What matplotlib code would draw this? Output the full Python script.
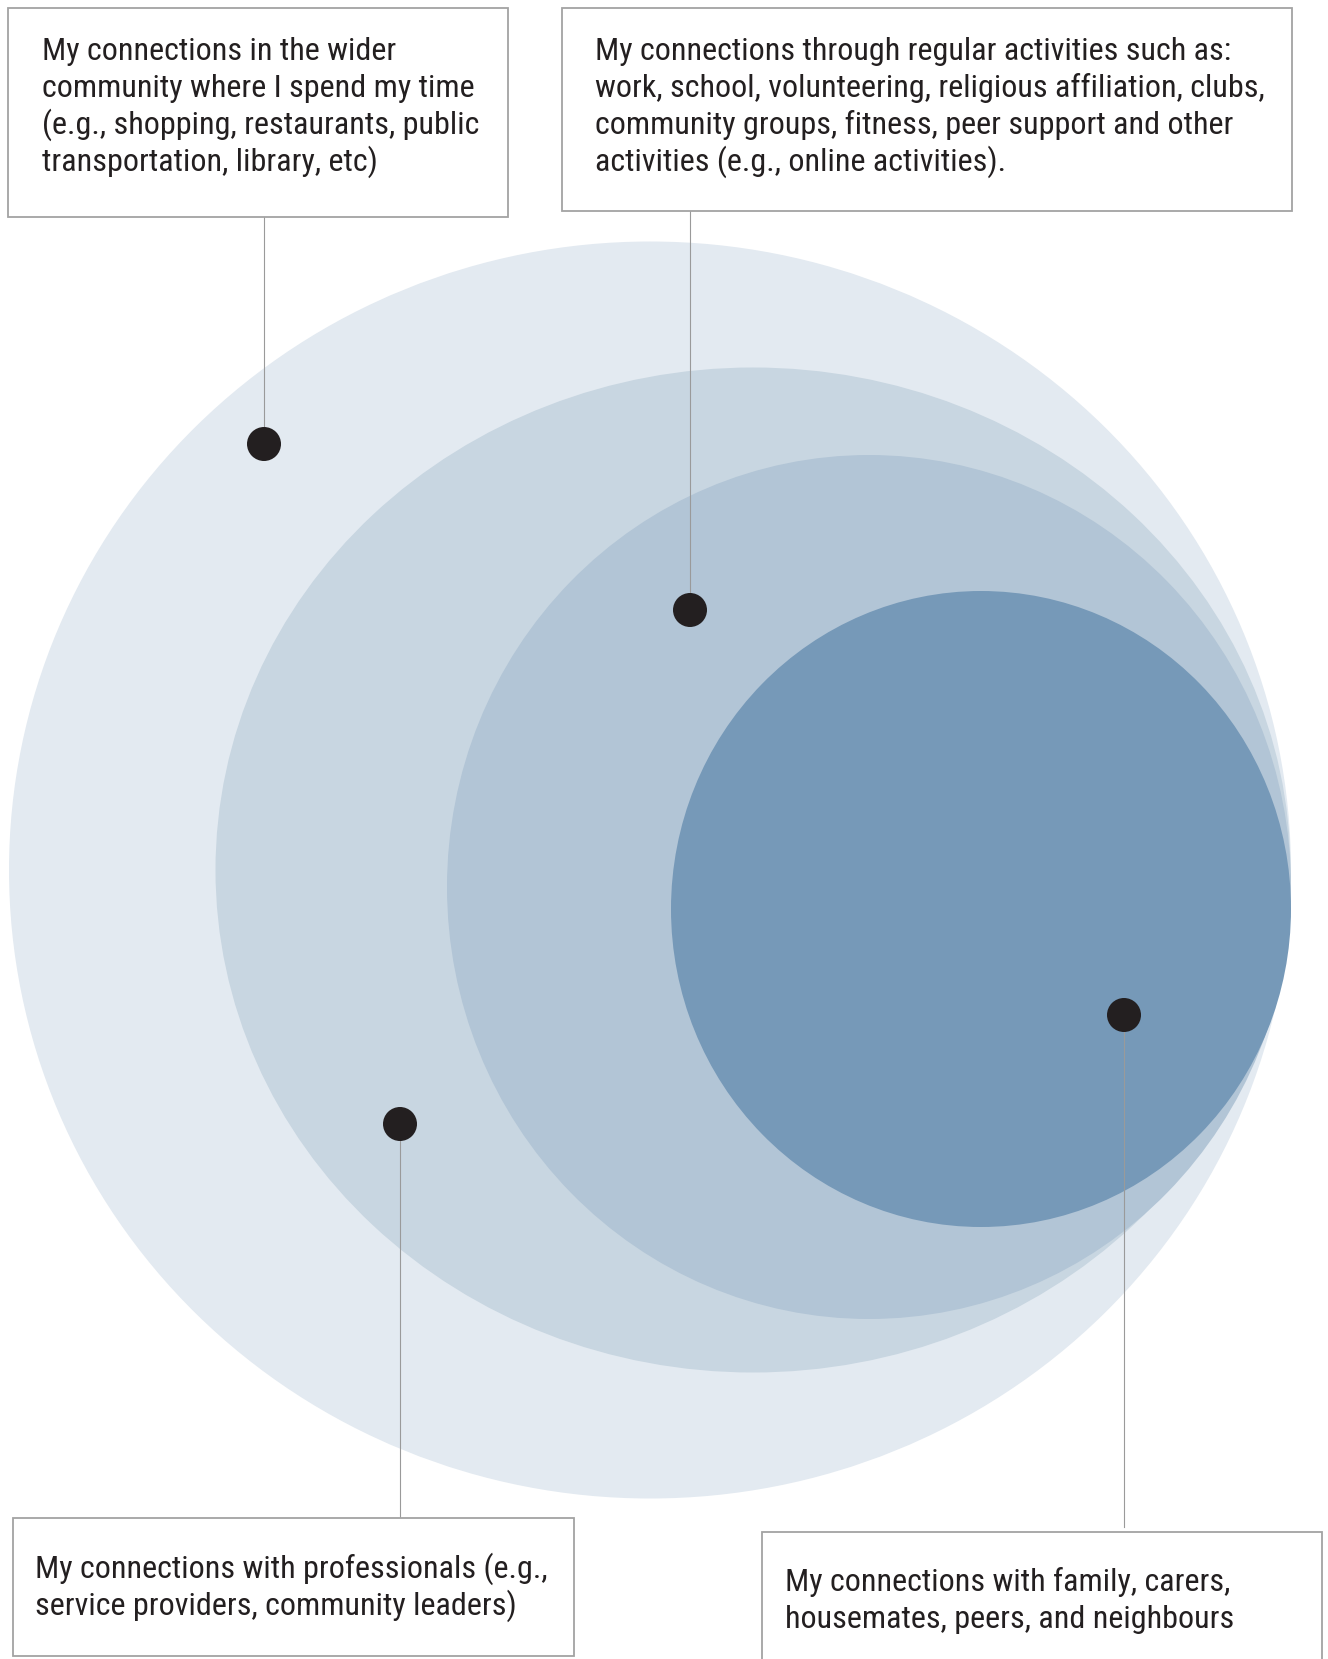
import matplotlib
matplotlib.use('Agg')
import matplotlib.pyplot as plt
from matplotlib import font_manager
from matplotlib.patches import Ellipse, Circle, Rectangle

# label texts, one entry per line
labels_wider = ['My connections in the wider',
                'community where I spend my time',
                '(e.g., shopping, restaurants, public',
                'transportation, library, etc)']
labels_activities = ['My connections through regular activities such as:',
                     'work, school, volunteering, religious affiliation, clubs,',
                     'community groups, fitness, peer support and other',
                     'activities (e.g., online activities).']
labels_professionals = ['My connections with professionals (e.g.,',
                        'service providers, community leaders)']
labels_family = ['My connections with family, carers,',
                 'housemates, peers, and neighbours']

ring_colors = ['#e3eaf1', '#c8d6e1', '#b2c5d6', '#7699b8']

# look for a narrow / condensed face, the reference uses a condensed grotesk
def pick_font():
    wanted = ['liberation sans narrow', 'roboto condensed', 'noto sans condensed',
              'dejavu sans condensed', 'open sans condensed', 'noto sans semicondensed']
    found = {}
    for f in font_manager.fontManager.ttflist:
        key = f.name.lower()
        if f.style != 'normal' or f.weight not in (400, 'normal', 'regular'):
            continue
        if str(f.stretch) in ('condensed', 'semi-condensed', 'extra-condensed'):
            key = key + ' ' + str(f.stretch).replace('-', '')
        found.setdefault(key, f.fname)
        found.setdefault(f.name.lower(), f.fname)
    for w in wanted:
        if w in found:
            return font_manager.FontProperties(fname=found[w])
    for f in font_manager.fontManager.ttflist:
        n = (f.fname + f.name).lower()
        if ('condensed' in n or 'narrow' in n) and 'bold' not in n and 'italic' not in n \
                and 'light' not in n and 'medium' not in n and 'black' not in n and 'thin' not in n:
            return font_manager.FontProperties(fname=f.fname)
    return font_manager.FontProperties(family='DejaVu Sans')


W, H = 1328, 1659
fig = plt.figure(figsize=(W / 100, H / 100), dpi=100)
ax = fig.add_axes([0, 0, 1, 1])
ax.set_xlim(0, W)
ax.set_ylim(H, 0)
ax.axis('off')

# rings (center x, center y, width, height), outer to inner
rings = [(650, 870, 1282, 1257),
         (753, 870, 1075, 1005),
         (869, 887, 844, 864),
         (981, 909, 620, 636)]
for (cx, cy, w, h), c in zip(rings, ring_colors):
    ax.add_patch(Ellipse((cx, cy), w, h, facecolor=c, edgecolor='none', zorder=1))

fp = pick_font()
txt_col = '#231f20'
line_col = '#9a9a9a'
step = 37

# size the font so one reference line has the same width as in the picture
renderer = fig.canvas.get_renderer()
probe = ax.text(0, 0, labels_wider[1], fontproperties=fp, fontsize=20)
wpx = probe.get_window_extent(renderer).width
probe.remove()
fs = 20 * 433 / wpx
fs = min(fs, 25.5)


def box(x0, y0, x1, y1, lines, tx, ty):
    ax.add_patch(Rectangle((x0, y0), x1 - x0, y1 - y0, facecolor='white',
                           edgecolor='#a3a3a3', lw=1.3, zorder=4))
    for i, s in enumerate(lines):
        ax.text(tx, ty + i * step, s, fontproperties=fp, fontsize=fs, color=txt_col,
                ha='left', va='baseline', zorder=5)


box(8, 8, 508, 217, labels_wider, 42, 60)
box(562, 8, 1292, 211, labels_activities, 595, 60)
box(13, 1518, 574, 1656, labels_professionals, 35, 1578)
box(762, 1532, 1322, 1700, labels_family, 785, 1591)

# leader lines and dots
leaders = [(264, 217, 444), (690, 211, 610), (400, 1124, 1518), (1124, 1015, 1527)]
for x, ya, yb in leaders:
    ax.plot([x, x], [ya, yb], color=line_col, lw=0.8, zorder=2)
for x, y in [(264, 444), (690, 610), (400, 1124), (1124, 1015)]:
    ax.add_patch(Circle((x, y), 17, facecolor=txt_col, edgecolor='none', zorder=3))

fig.savefig('out.png', dpi=100)
